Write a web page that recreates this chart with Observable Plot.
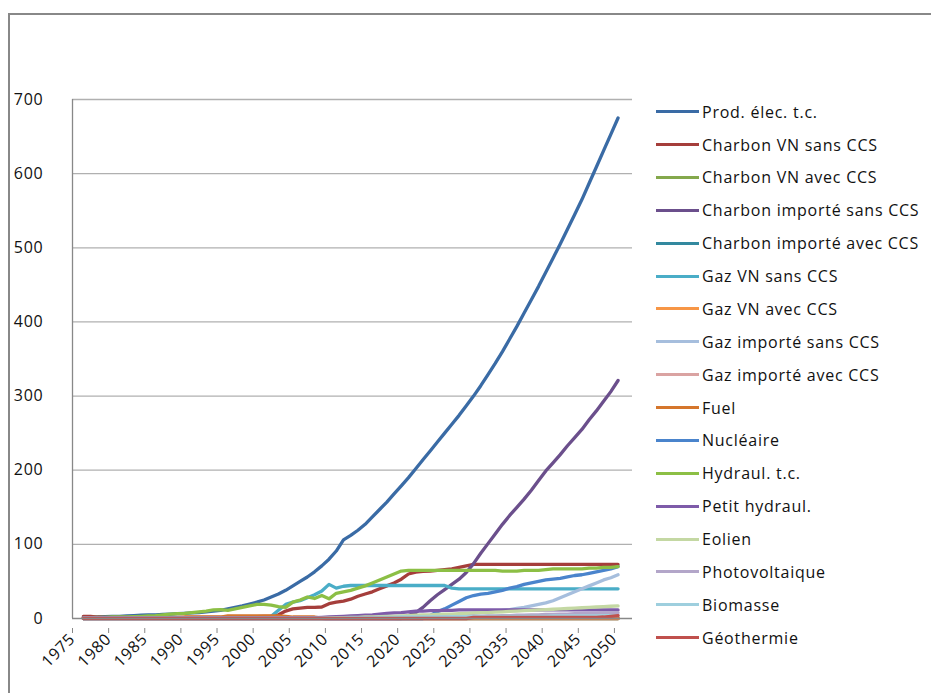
<!DOCTYPE html>
<html>
<head>
<meta charset="utf-8">
<script src="https://cdn.jsdelivr.net/npm/d3@7"></script>
<script src="https://cdn.jsdelivr.net/npm/@observablehq/plot@0.6"></script>
<style>
  html, body { margin: 0; padding: 0; background: #fff; }
  #wrap { position: relative; width: 931px; height: 693px; overflow: hidden; font-family: "Open Sans", sans-serif; }
  #frame { position: absolute; left: 8px; top: 13px; width: 940px; height: 700px; border-left: 2px solid #888; border-top: 2px solid #888; }
  #chart { position: absolute; left: 0; top: 0; }
  #legend { position: absolute; left: 0; top: 0; }
  .item { position: absolute; left: 656px; height: 22px; display: flex; align-items: center; white-space: nowrap; font-size: 16px; letter-spacing: 0.75px; color: #111; }
  .sw { width: 43px; height: 3px; margin-right: 3px; }
</style>
</head>
<body>
<div id="wrap">
  <div id="frame"></div>
  <div id="chart"></div>
  <div id="legend"></div>
</div>
<script>
// Categories (years) and tick labels
const years = d3.range(1976, 2051);
const tickYears = [1975, 1980, 1985, 1990, 1995, 2000, 2005, 2010, 2015, 2020, 2025, 2030, 2035, 2040, 2045, 2050];
const yTicks = [0, 100, 200, 300, 400, 500, 600, 700];

const seriesNames = ["Prod. élec. t.c.", "Charbon VN sans CCS", "Charbon VN avec CCS", "Charbon importé sans CCS",
  "Charbon importé avec CCS", "Gaz VN sans CCS", "Gaz VN avec CCS", "Gaz importé sans CCS", "Gaz importé avec CCS",
  "Fuel", "Nucléaire", "Hydraul. t.c.", "Petit hydraul.", "Eolien", "Photovoltaique", "Biomasse", "Géothermie"];
const seriesColors = ["#3a6ba5", "#a53e3b", "#84a84c", "#6b4f8c", "#33899f", "#4aadc7", "#f79646", "#a6bedd", "#daa3a2",
  "#d5762c", "#4a84cc", "#8cbf45", "#7e5ba9", "#c4d8a3", "#b3a6c9", "#9ecfde", "#c0504d"];

// Values per year 1976..2050
const prodElec = [1,1.5,2,2.5,3, 3,3.5,4,4.5,5, 5,5.5,6,6.5,7, 7.5,8,9,10,11, 13,15,17,19.5,22,
  25,29,33,38,44, 50,56,63,71,80, 91,106,112,119,127, 137,147,157,168,179, 190,202,214,226,238,
  250,262,274,287,300, 314,329,344,360,377, 394,412,430,448,467, 486,505,525,545,565, 587,609,631,653,675];
const charbonVNSans = [3,3,2,1.5,1.5, 1.5,1.5,1.5,1.5,1.5, 1.5,1.5,1.5,1.5,1.5, 1.5,1.5,1.5,1.5,1.5, 2,2,2,2.5,2.5,
  3,3,5,10,13, 14,15,15,15.5,20, 22,23.5,26,30,33, 36,40,44,48,53, 60,62.5,63.5,64,65,
  66,67,69,71,73, 73,73,73,73,73, 73,73,73,73,73, 73,73,73,73,73, 73,73,73,73,73];
const charbonVNAvec = [0,0,0,0,0, 0,0,0,0,0, 0,0,0,0,0, 0,0,0,0,0, 0,0,0,0,0,
  0,0,0,0,0, 0,0,0,0,0, 0,0,0,0,0, 0,0,0,0,0, 0,0,0,0,0,
  0,0,0,0,0, 0,0,0,0,0, 0,0,0,0,0, 0,0,0,0,0, 0,0,0,0,0];
const charbonImpSans = [0,0,0,0,0, 0,0,0,0,0, 0,0,0,0,0, 0,0,0,0,0, 0,0,0,0,0,
  0,0,0,0,0, 0,0,0,0,0, 0,0,0,0,0, 0,0,0,0,0, 4,8,15,24,32,
  39,46,53,62,74, 88,101,114,127,139, 150,161,173,186,199, 210,221,233,244,255, 268,280,293,306,321];
const charbonImpAvec = [0,0,0,0,0, 0,0,0,0,0, 0,0,0,0,0, 0,0,0,0,0, 0,0,0,0,0,
  0,0,0,0,0, 0,0,0,0,0, 0,0,0,0,0, 0,0,0,0,0, 0,0,0,0,0,
  0,0,0,0,0, 0,0,0,0,0, 0,0,0,0,0, 0,0,0,0,0, 0,0,0,0,0];
const gazVNSans = [0,0,0,0,0, 0,0,0,0,0, 0,0,0,0,0, 0,0,0,0,0, 0,0,0,0,0,
  0,3,11,19,22, 24,28,32,37,46, 41,43.5,44.5,44.5,44.5, 44.5,44.5,44.5,44.5,44.5, 44.5,44.5,44.5,44.5,44.5,
  44.5,41,40,40,40, 40,40,40,40,40, 40,40,40,40,40, 40,40,40,40,40, 40,40,40,40,40];
const gazVNAvec = [0,0,0,0,0, 0,0,0,0,0, 0,0,0,0,0, 0,0,0,0,0, 0,0,0,0,0,
  0,0,0,0,0, 0,0,0,0,0, 0,0,0,0,0, 0,0,0,0,0, 0,0,0,0,0,
  0,0,0,0,0, 0,0,0,0,0, 0,0,0,0,0, 0,0,0,0,0, 0,0,0,0,0];
const gazImpSans = [0,0,0,0,0, 0,0,0,0,0, 0,0,0,0,0, 0,0,0,0,0, 0,0,0,0,0,
  0,0,0,0,0, 0,0,0,0,0, 0,0,0,0,0, 0,0,0,0,0, 0,0,0,0,2,
  3,4,5,6,7, 8,9,10,11,12, 13.5,15,17,19,21, 24,28,32,36,40, 44,48,52,55,59];
const gazImpAvec = [0,0,0,0,0, 0,0,0,0,0, 0,0,0,0,0, 0,0,0,0,0, 0,0,0,0,0,
  0,0,0,0,0, 0,0,0,0,0, 0,0,0,0,0, 0,0,0,0,0, 0,0,0,0,0,
  0,0,0,0,0, 0,0,0,0,0, 0,0,0,0,0, 0,0,0,0,0, 0,0,0,0,0];
const fuel = [1,1,1,1,1, 1,1,1,1,1, 1,1,1,1,2, 2,2,2,2,2, 3.5,3.5,3.5,3.5,3.5,
  3.5,3.5,3.5,3,2, 2,2,2,0.5,0.5, 0.5,0.5,0.5,0.5,0.5, 0.5,0.5,0.5,0.5,0.5, 0.5,0.5,0.5,0.5,0.5,
  0.5,0.5,0.5,0.5,0.5, 0.5,0.5,0.5,0.5,0.5, 0.5,0.5,0.5,0.5,0.5, 0.5,0.5,0.5,0.5,0.5, 0.5,0.5,0.5,0.5,0.5];
const nucleaire = [0,0,0,0,0, 0,0,0,0,0, 0,0,0,0,0, 0,0,0,0,0, 0,0,0,0,0,
  0,0,0,0,0, 0,0,0,0,0, 0,0,0,0,0, 0,0,0,0,0, 0,0,0,4,9,
  13,18,23,28,31, 33,34,36,38,41, 43,46,48,50,52, 53,54,56,58,59, 61,63,65,67,70];
const hydraul = [1,1,1.5,1.5,2, 2,2,2.5,3,3.5, 4,5,6,6.5,7, 8,9,10,11.5,12, 11,13,15,17,19,
  19,18,16,15,22, 25,29,27,31,26.5, 34,36,38,41,44, 48,52,56,60,64, 65,65,65,65,65,
  65,65,65,65,65, 65,65,65,64,64, 64,65,65,65,66, 67,67,67,67,67, 68,68,69,69,70];
const petitHydraul = [1,1,1,1,1, 1,1,1,1,1, 1,1,1,1,1, 1,1,1,1,1, 1,1,1,1,1,
  1,1,1,1,1, 1,1,1,1.5,2, 2.5,3,3.5,4,4.5, 5,6,7,7.5,8, 9,10,10,10.5,10.5,
  11,11,11.5,11.5,11.5, 11.5,11.5,11.5,11.5,11.5, 11.5,11.5,11.5,11.5,11.5, 11.5,11.5,11.5,11.5,11.5, 11.5,11.5,11.5,11.5,11.5];
const eolien = [0,0,0,0,0, 0,0,0,0,0, 0,0,0,0,0, 0,0,0,0,0, 0,0,0,0,0,
  0,0,0,0,0, 0,0,0,0,0.5, 1,1,1.5,1.5,2, 2,2.5,3,3,3.5, 4,4.5,5,5,5.5,
  6,6,6.5,7,7.5, 8,8,8.5,9,9.5, 10,10.5,11,11.5,12, 12.5,13,13.5,14,14.5, 15,15.5,16,16.5,17];
const photovoltaique = [0,0,0,0,0, 0,0,0,0,0, 0,0,0,0,0, 0,0,0,0,0, 0,0,0,0,0,
  0,0,0,0,0, 0,0,0,0,0, 0,0,0,0,0, 0,0,0,0,0.5, 0.5,1,1,1.5,1.5,
  2,2,2.5,2.5,3, 3,3.5,3.5,4,4, 4.5,4.5,5,5,5.5, 5.5,6,6,6.5,6.5, 7,7,7.5,7.5,8];
const biomasse = [0,0,0,0,0, 0,0,0,0,0, 0,0,0,0,0, 0,0,0,0,0, 0,0,0,0,0,
  0,0,0,0,0, 0,0,0,0,0.5, 0.5,0.5,1,1,1, 1,1.5,1.5,1.5,2, 2,2,2,2,2,
  2,2.5,2.5,2.5,2.5, 3,3,3,3,3, 3,3,3,3,3, 3.5,3.5,3.5,3.5,3.5, 3.5,3.5,4,4,4];
const geothermie = [0,0,0,0,0, 0,0,0,0,0, 0,0,0,0,0, 0,0,0,0,0, 0,0,0,0,0,
  0,0,0,0,0, 0,0,0,0,0, 0,0,0,0,0, 0,0,0,0,0, 0,0,0,0,0,
  0,0,0,0,1.5, 1.5,1.5,1.5,1.5,1.5, 1.5,1.5,1.5,1.5,1.5, 1.5,1.5,1.5,1.5,1.5, 1.5,1.5,2,3,4];

const seriesValues = [prodElec, charbonVNSans, charbonVNAvec, charbonImpSans, charbonImpAvec, gazVNSans, gazVNAvec,
  gazImpSans, gazImpAvec, fuel, nucleaire, hydraul, petitHydraul, eolien, photovoltaique, biomasse, geothermie];

// Data points sit at the centre of each yearly category
const lineMarks = seriesValues.map((vals, k) =>
  Plot.line(years.map((yr, i) => ({pos: yr + 0.5, v: vals[i]})), {
    x: "pos", y: "v", stroke: seriesColors[k], strokeWidth: 3.3, strokeLinejoin: "round", strokeLinecap: "round"
  })
);

const chart = Plot.plot({
  width: 645,
  height: 693,
  marginLeft: 72,
  marginRight: 13,
  marginTop: 99,
  marginBottom: 75,
  style: {fontFamily: "'Open Sans', sans-serif", background: "transparent", color: "#111", letterSpacing: "0.75px"},
  x: {domain: [1975, 2052.5], axis: null, label: null},
  y: {domain: [0, 700], axis: null, label: null},
  marks: [
    Plot.ruleY(yTicks.filter(d => d > 0), {stroke: "#b0b0b0", strokeWidth: 1.3}),
    Plot.ruleX([1975], {stroke: "#888", strokeWidth: 1.3}),
    Plot.axisY(yTicks, {tickSize: 0, tickPadding: 29, fontSize: 16, fill: "#111", label: null}),
    Plot.axisX(tickYears, {tickSize: 5, stroke: "#888", tickFormat: d => String(d), tickRotate: -45, fontSize: 16, fill: "#111", tickPadding: 3, dx: 0, dy: 10, label: null}),
    ...lineMarks,
    Plot.ruleY([0], {stroke: "#888", strokeWidth: 1.3})
  ]
});
document.getElementById("chart").appendChild(chart);

// Legend
const legend = document.getElementById("legend");
seriesNames.forEach((name, i) => {
  const row = document.createElement("div");
  row.className = "item";
  row.style.top = (111.7 + i * 32.875 - 11) + "px";
  const sw = document.createElement("div");
  sw.className = "sw";
  sw.style.background = seriesColors[i];
  const tx = document.createElement("span");
  tx.textContent = name;
  row.appendChild(sw);
  row.appendChild(tx);
  legend.appendChild(row);
});
</script>
</body>
</html>
